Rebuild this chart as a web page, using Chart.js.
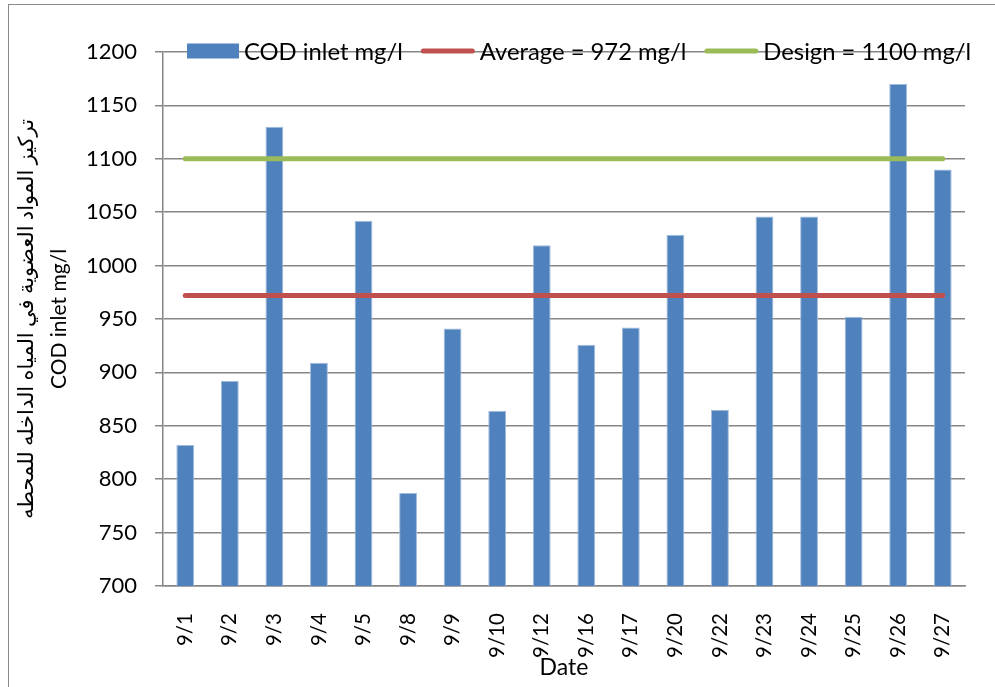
<!DOCTYPE html>
<html><head><meta charset="utf-8">
<script src="https://cdn.jsdelivr.net/npm/chart.js@4"></script>
<style>html,body{margin:0;padding:0;background:#fff}#wrap{width:995px;height:687px}</style>
</head><body><div id="wrap"><canvas id="c" width="995" height="687"></canvas></div>
<script>
const categories = ['9/1','9/2','9/3','9/4','9/5','9/8','9/9','9/10','9/12','9/16','9/17','9/20','9/22','9/23','9/24','9/25','9/26','9/27'];
const codInlet = [832, 892, 1130, 909, 1042, 787, 941, 864, 1019, 926, 942, 1029, 865, 1046, 1046, 952, 1170, 1090];
const averageValue = 972;
const designValue = 1100;
const yMin = 700, yMax = 1200, yStep = 50;
const seriesLabels = ['COD inlet mg/l', 'Average = 972 mg/l', 'Design = 1100 mg/l'];
const yTitleLines = ['تركيز المواد العضوية في المياه الداخله للمحطه', 'COD inlet mg/l'];
const xTitleText = 'Date';

const FONT = "Lato, 'DejaVu Sans', sans-serif";
const GRID = '#868686';

const framePlugin = {
  id: 'frame',
  beforeDraw(chart) {
    const ctx = chart.ctx;
    ctx.save();
    ctx.fillStyle = '#fff';
    ctx.fillRect(0, 0, chart.width, chart.height);
    ctx.strokeStyle = '#8a8a8a';
    ctx.lineWidth = 1;
    ctx.strokeRect(8.5, 4.5, 1000, 700);
    ctx.restore();
  }
};

const legendPlugin = {
  id: 'customLegend',
  afterDraw(chart) {
    const ctx = chart.ctx;
    ctx.save();
    ctx.font = '23.8px ' + FONT;
    ctx.textBaseline = 'middle';
    let x = 187;
    const y = 51;
    chart.data.datasets.forEach((ds) => {
      let symW;
      if (ds.type === 'line') {
        symW = 54;
        ctx.strokeStyle = ds.borderColor;
        ctx.lineWidth = 5;
        ctx.lineCap = 'round';
        ctx.beginPath();
        ctx.moveTo(x + 2.5, y);
        ctx.lineTo(x + symW - 2.5, y);
        ctx.stroke();
      } else {
        symW = 52;
        ctx.fillStyle = ds.backgroundColor;
        ctx.fillRect(x, y - 7.5, symW, 15);
      }
      ctx.fillStyle = '#000';
      const tx = x + symW + 5;
      ctx.fillText(ds.label, tx, y + 1);
      x = tx + ctx.measureText(ds.label).width + 18;
    });
    ctx.restore();
  }
};

new Chart(document.getElementById('c'), {
  data: {
    labels: categories,
    datasets: [
      {
        type: 'bar', label: seriesLabels[0], data: codInlet,
        backgroundColor: '#4F81BD', borderColor: '#9fbadc', borderWidth: {left:1,right:1,top:1,bottom:0},
        barPercentage: 0.4, categoryPercentage: 1.0, order: 2
      },
      {
        type: 'line', label: seriesLabels[1],
        data: [{x: categories[0], y: averageValue}, {x: categories[categories.length - 1], y: averageValue}],
        borderColor: '#C0504D', borderWidth: 5, borderCapStyle: 'round', pointRadius: 0, order: 1
      },
      {
        type: 'line', label: seriesLabels[2],
        data: [{x: categories[0], y: designValue}, {x: categories[categories.length - 1], y: designValue}],
        borderColor: '#9BBB59', borderWidth: 5, borderCapStyle: 'round', pointRadius: 0, order: 0
      }
    ]
  },
  options: {
    responsive: false,
    animation: false,
    devicePixelRatio: 1,
    layout: { padding: { top: 52, right: 30, bottom: 0, left: 0 } },
    plugins: { legend: { display: false }, tooltip: { enabled: false } },
    scales: {
      x: {
        type: 'category',
        offset: true,
        grid: { display: false },
        border: { display: true, color: GRID, width: 1.5 },
        ticks: { autoSkip: false, maxRotation: 90, minRotation: 90, padding: 19, color: '#000', font: { family: FONT, size: 20.5 } },
        title: { display: true, text: xTitleText, color: '#000', font: { family: FONT, size: 23 }, padding: { top: 0, bottom: 6 } },
        afterFit: (s) => { s.height = 101; }
      },
      y: {
        min: yMin, max: yMax,
        ticks: { stepSize: yStep, padding: 18, color: '#000', font: { family: FONT, size: 22 }, callback: (v) => String(v) },
        grid: { color: GRID, lineWidth: 1.5, drawTicks: true, tickLength: 8 },
        border: { display: true, color: GRID, width: 1.5 },
        title: { display: true, text: yTitleLines, color: '#000', font: { family: FONT, size: 21, lineHeight: '33px' }, padding: { top: 10, bottom: 0 } },
        afterFit: (s) => { s.width = 163; }
      }
    }
  },
  plugins: [framePlugin, legendPlugin]
});
</script>
</body></html>
